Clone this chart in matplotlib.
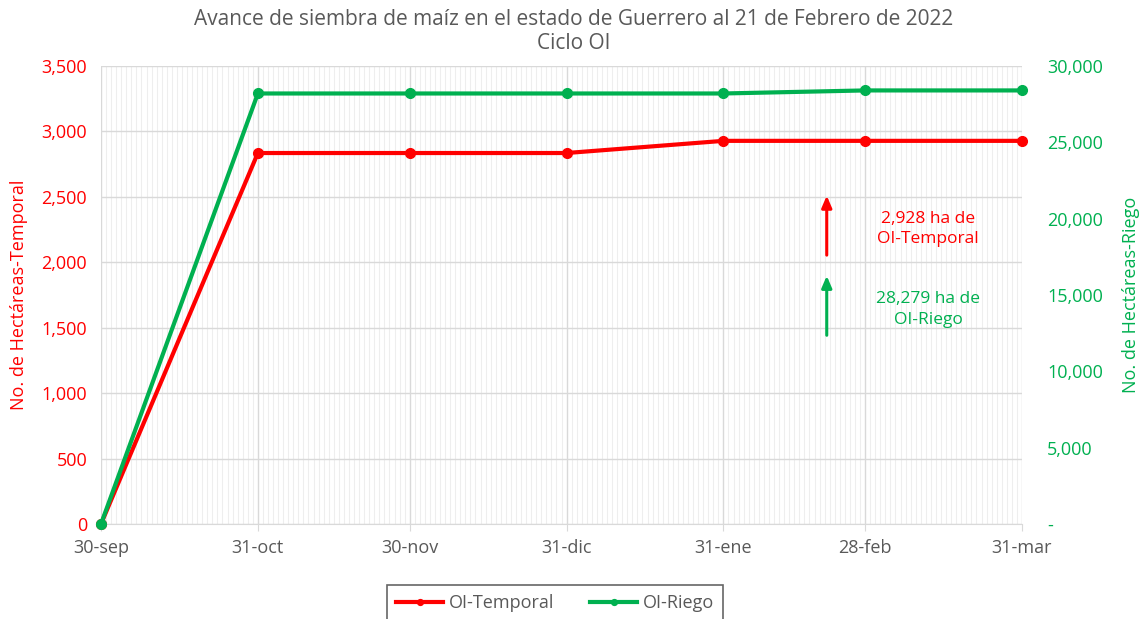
import matplotlib
matplotlib.use("Agg")
import matplotlib.pyplot as plt
import matplotlib.dates as mdates
from matplotlib.ticker import FuncFormatter, MultipleLocator
import pandas as pd

plt.rcParams['font.family'] = ['Open Sans', 'DejaVu Sans']

fechas = pd.to_datetime(["2021-09-30", "2021-10-31", "2021-11-30", "2021-12-31",
                         "2022-01-31", "2022-02-28", "2022-03-31"])
etiquetas = ["30-sep", "31-oct", "30-nov", "31-dic", "31-ene", "28-feb", "31-mar"]
temporal = [0, 2835, 2835, 2835, 2928, 2928, 2928]
riego = [0, 28200, 28200, 28200, 28200, 28400, 28400]

ROJO = "#ff0000"
VERDE = "#00b050"
GRIS = "#595959"

fig = plt.figure(figsize=(11.48, 6.19), dpi=100)
ax = fig.add_axes([101/1148, 1-524/619, 921/1148, 458/619])
ax2 = ax.twinx()

l1, = ax.plot(fechas, temporal, color=ROJO, lw=3, marker='o', ms=7,
              label="OI-Temporal", clip_on=False, zorder=3)
l2, = ax2.plot(fechas, riego, color=VERDE, lw=3, marker='o', ms=7,
               label="OI-Riego", clip_on=False, zorder=3)

ax.set_xlim(fechas[0], fechas[-1])
ax.set_ylim(0, 3500)
ax2.set_ylim(0, 30000)
ax.yaxis.set_major_locator(MultipleLocator(500))
ax2.yaxis.set_major_locator(MultipleLocator(5000))
ax.yaxis.set_major_formatter(FuncFormatter(lambda v, p: f"{v:,.0f}"))
ax2.yaxis.set_major_formatter(FuncFormatter(lambda v, p: "-" if v == 0 else f"{v:,.0f}"))

ax.set_xticks(fechas)
ax.set_xticklabels(etiquetas)
ax.xaxis.set_minor_locator(mdates.DayLocator())

ax.grid(True, which='major', color="#d9d9d9", lw=1)
ax.grid(True, which='minor', axis='x', color="#eeeeee", lw=0.8)
ax.set_axisbelow(True)

for a in (ax, ax2):
    for s in a.spines.values():
        s.set_visible(False)
ax.spines['bottom'].set_visible(True)
ax.spines['bottom'].set_color("#d9d9d9")

ax.tick_params(axis='x', which='major', colors="#d9d9d9", length=5, labelcolor=GRIS,
               labelsize=13, pad=6)
ax.tick_params(axis='x', which='minor', length=0)
ax.tick_params(axis='y', length=0, labelcolor=ROJO, labelsize=13, pad=10)
ax2.tick_params(axis='y', length=0, labelcolor=VERDE, labelsize=13, pad=18)

ax.set_ylabel("No. de Hectáreas-Temporal", color=ROJO, fontsize=13, labelpad=10)
ax2.set_ylabel("No. de Hectáreas-Riego", color=VERDE, fontsize=13, labelpad=14)

fig.suptitle("Avance de siembra de maíz en el estado de Guerrero al 21 de Febrero de 2022\nCiclo OI",
             color=GRIS, fontsize=15, y=0.985, linespacing=1.15)

ax.annotate("", xy=(0.788, 0.723), xytext=(0.788, 0.581), xycoords='axes fraction',
            arrowprops=dict(arrowstyle='-|>,head_width=0.3,head_length=0.7', color=ROJO, lw=2.2))
ax.annotate("", xy=(0.788, 0.548), xytext=(0.788, 0.406), xycoords='axes fraction',
            arrowprops=dict(arrowstyle='-|>,head_width=0.3,head_length=0.7', color=VERDE, lw=2.2))
ax.text(0.898, 0.644, "2,928 ha de\nOI-Temporal", transform=ax.transAxes, color=ROJO,
        fontsize=12.5, ha='center', va='center', linespacing=1.4)
ax.text(0.898, 0.469, "28,279 ha de\nOI-Riego", transform=ax.transAxes, color=VERDE,
        fontsize=12.5, ha='center', va='center', linespacing=1.4)

leg = fig.legend(handles=[l1, l2], loc='upper center', bbox_to_anchor=(555/1148, 1-585/619),
                 ncol=2, fontsize=13, frameon=True, fancybox=False, edgecolor="#404040",
                 handlelength=2.6, columnspacing=2.0, borderpad=0.5, borderaxespad=0,
                 handletextpad=0.3, markerscale=0.6)
leg.get_frame().set_linewidth(1.2)
for t in leg.get_texts():
    t.set_color(GRIS)

fig.savefig("out.png", dpi=100)
